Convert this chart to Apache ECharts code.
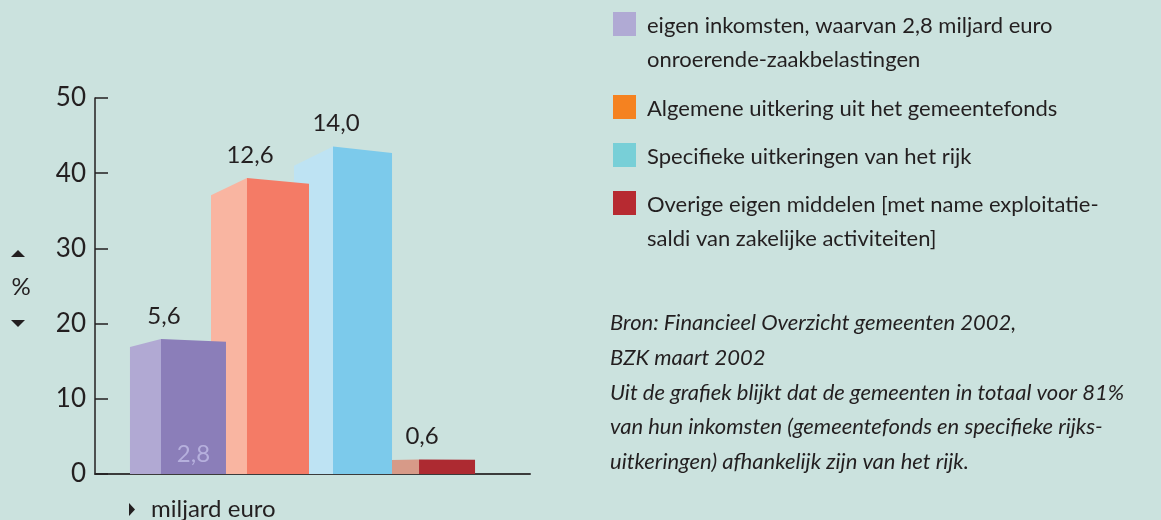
<!DOCTYPE html>
<html>
<head>
<meta charset="utf-8">
<script src="https://cdn.jsdelivr.net/npm/echarts@6/dist/echarts.min.js"></script>
<style>
  html, body { margin: 0; padding: 0; background: #cbe2de; }
  #main { width: 1161px; height: 520px; }
</style>
</head>
<body>
<div id="main"></div>
<script>
// data
var names = [
  'eigen inkomsten, waarvan 2,8 miljard euro\nonroerende-zaakbelastingen',
  'Algemene uitkering uit het gemeentefonds',
  'Specifieke uitkeringen van het rijk',
  'Overige eigen middelen [met name exploitatie-\nsaldi van zakelijke activiteiten]'
];
var amounts = ['5,6', '12,6', '14,0', '0,6'];   // miljard euro
var shares = [17.6, 38.6, 42.7, 1.9];            // % (bar heights)
var ozbAmount = '2,8';
var yTicks = [0, 10, 20, 30, 40, 50];
var sourceLines = [
  'Bron: Financieel Overzicht gemeenten 2002,',
  'BZK maart 2002',
  'Uit de grafiek blijkt dat de gemeenten in totaal voor 81%',
  'van hun inkomsten (gemeentefonds en specifieke rijks-',
  'uitkeringen) afhankelijk zijn van het rijk.'
];

var frontColors = ['#8b7eb9', '#f47b66', '#7ccaeb', '#ad2a31'];
var sideColors = ['#b1a9d3', '#f9b5a1', '#bee3f3', '#d79a88'];
var legendColors = ['#b0aad4', '#f58220', '#78cfd7', '#b72a31'];
var frontW = [65, 62, 59, 56];
var depthW = [31, 36, 39, 42];
var FONT = 'Lato';
var INK = '#231f20';

var chart = echarts.init(document.getElementById('main'), null, { renderer: 'canvas' });

function makeRender(i) {
  return function (params, api) {
    var x = api.value(0), v = api.value(1);
    var base = api.coord([x, 0]);
    var top = api.coord([x, v]);
    var h = base[1] - top[1];
    var fx = base[0], fw = frontW[i], d = depthW[i];
    var yRight = top[1];
    var yLeft = top[1] - h * 0.02;
    var ySide = top[1] + h * 0.04;
    var children = [
      { type: 'polygon', shape: { points: [[fx - d, base[1]], [fx - d, ySide], [fx, yLeft], [fx, base[1]]] },
        style: { fill: sideColors[i] } },
      { type: 'polygon', shape: { points: [[fx, base[1]], [fx, yLeft], [fx + fw, yRight], [fx + fw, base[1]]] },
        style: { fill: frontColors[i] } },
      { type: 'text', x: fx + 3, y: yLeft - 11,
        style: { text: amounts[i], fill: INK, font: '24px ' + FONT, align: 'center', verticalAlign: 'bottom' } }
    ];
    if (i === 0) {
      children.push({ type: 'text', x: fx + fw / 2, y: base[1] - 8,
        style: { text: ozbAmount, fill: '#b6b0dd', font: '24px ' + FONT, align: 'center', verticalAlign: 'bottom' } });
    }
    return { type: 'group', children: children };
  };
}

var series = shares.map(function (v, i) {
  return {
    type: 'custom',
    name: names[i],
    z: 10 - i,
    renderItem: makeRender(i),
    data: [[i, v]]
  };
});

// legend drawn as graphic so multi-line items keep the square on line 1
var legendTops = [12, 95, 143, 191];
var graphics = [];
legendTops.forEach(function (t, i) {
  graphics.push({ type: 'rect', left: 613, top: t, shape: { width: 23, height: 24 }, style: { fill: legendColors[i] } });
  graphics.push({ type: 'text', x: 647, y: t - 3,
    style: { text: names[i], fill: INK, font: '22px ' + FONT, lineHeight: 34, verticalAlign: 'top' } });
});
sourceLines.forEach(function (s, k) {
  graphics.push({ type: 'text', x: 610, y: 323 + k * 34.8,
    style: { text: s, fill: INK, font: 'italic 22px ' + FONT, verticalAlign: 'middle' } });
});
graphics.push({ type: 'polygon', shape: { points: [[11, 257], [25, 257], [18, 250]] }, style: { fill: INK } });
graphics.push({ type: 'text', x: 21, y: 287, style: { text: '%', fill: INK, font: '24px ' + FONT, align: 'center', verticalAlign: 'middle' } });
graphics.push({ type: 'polygon', shape: { points: [[11, 320], [25, 320], [18, 327]] }, style: { fill: INK } });
graphics.push({ type: 'polygon', shape: { points: [[129, 503], [129, 516], [135, 509.5]] }, style: { fill: INK } });
graphics.push({ type: 'text', x: 151, y: 509, style: { text: 'miljard euro', fill: INK, font: '24px ' + FONT, verticalAlign: 'middle' } });

var option = {
  backgroundColor: '#cbe2de',
  animation: false,
  grid: { left: 95, right: 631, top: 98, bottom: 46 },
  xAxis: {
    type: 'value', min: -0.767, max: 4.29,
    axisLine: { show: true, lineStyle: { color: '#3b3b3b', width: 2 } },
    axisTick: { show: false }, axisLabel: { show: false }, splitLine: { show: false }
  },
  yAxis: {
    type: 'value', min: yTicks[0], max: yTicks[yTicks.length - 1], interval: 10,
    axisLine: { show: true, onZero: false, lineStyle: { color: INK, width: 1.5 } },
    axisTick: { show: true, inside: true, length: 13, lineStyle: { color: INK, width: 1.5 } },
    axisLabel: { color: INK, fontSize: 26, fontFamily: FONT, margin: 9 },
    splitLine: { show: false }
  },
  graphic: graphics,
  series: series
};
chart.setOption(option);
</script>
</body>
</html>
